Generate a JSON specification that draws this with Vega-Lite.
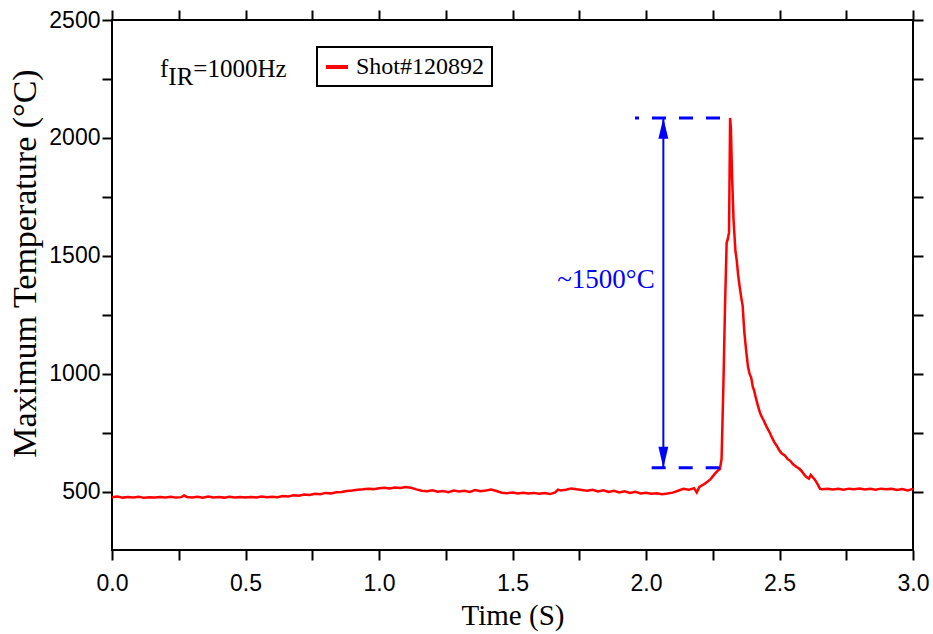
{
  "$schema": "https://vega.github.io/schema/vega-lite/v6.json",
  "width": 801,
  "height": 530,
  "autosize": {"type": "none"},
  "padding": {"left": 112, "top": 20, "right": 20, "bottom": 84},
  "background": "white",
  "config": {
    "view": {"stroke": "black", "strokeWidth": 2},
    "axis": {"domain": false, "grid": false, "tickColor": "black", "tickWidth": 2, "tickSize": 10, "labelColor": "black", "titleColor": "black", "labelOverlap": false, "labelFlush": false, "labelBound": false}
  },
  "datasets": {
    "series": [
      {"t":0,"v":478},{"t":0.02,"v":481},{"t":0.04,"v":476},{"t":0.06,"v":479},{"t":0.08,"v":477},{"t":0.1,"v":480},{"t":0.12,"v":475},{"t":0.14,"v":478},{"t":0.16,"v":476},{"t":0.18,"v":479},{"t":0.2,"v":477},{"t":0.22,"v":480},{"t":0.24,"v":476},{"t":0.26,"v":478},{"t":0.27,"v":485},{"t":0.28,"v":479},{"t":0.3,"v":477},{"t":0.32,"v":480},{"t":0.34,"v":476},{"t":0.36,"v":481},{"t":0.38,"v":477},{"t":0.4,"v":479},{"t":0.42,"v":476},{"t":0.44,"v":480},{"t":0.46,"v":477},{"t":0.48,"v":479},{"t":0.5,"v":476},{"t":0.52,"v":479},{"t":0.54,"v":477},{"t":0.56,"v":481},{"t":0.58,"v":478},{"t":0.6,"v":480},{"t":0.62,"v":478},{"t":0.64,"v":483},{"t":0.66,"v":481},{"t":0.68,"v":486},{"t":0.7,"v":484},{"t":0.72,"v":489},{"t":0.74,"v":487},{"t":0.76,"v":492},{"t":0.78,"v":490},{"t":0.8,"v":496},{"t":0.82,"v":494},{"t":0.84,"v":499},{"t":0.86,"v":500},{"t":0.88,"v":504},{"t":0.9,"v":506},{"t":0.92,"v":509},{"t":0.94,"v":511},{"t":0.96,"v":514},{"t":0.98,"v":512},{"t":1.0,"v":516},{"t":1.02,"v":518},{"t":1.04,"v":515},{"t":1.06,"v":519},{"t":1.08,"v":517},{"t":1.1,"v":521},{"t":1.12,"v":518},{"t":1.14,"v":511},{"t":1.16,"v":505},{"t":1.18,"v":503},{"t":1.2,"v":507},{"t":1.22,"v":501},{"t":1.24,"v":504},{"t":1.26,"v":499},{"t":1.28,"v":506},{"t":1.3,"v":502},{"t":1.32,"v":505},{"t":1.34,"v":500},{"t":1.36,"v":508},{"t":1.38,"v":503},{"t":1.4,"v":506},{"t":1.42,"v":510},{"t":1.44,"v":504},{"t":1.46,"v":497},{"t":1.48,"v":495},{"t":1.5,"v":498},{"t":1.52,"v":494},{"t":1.54,"v":497},{"t":1.56,"v":493},{"t":1.58,"v":496},{"t":1.6,"v":492},{"t":1.62,"v":495},{"t":1.64,"v":491},{"t":1.66,"v":498},{"t":1.67,"v":510},{"t":1.68,"v":506},{"t":1.7,"v":509},{"t":1.72,"v":515},{"t":1.74,"v":511},{"t":1.76,"v":508},{"t":1.78,"v":505},{"t":1.8,"v":509},{"t":1.82,"v":502},{"t":1.84,"v":507},{"t":1.86,"v":500},{"t":1.88,"v":505},{"t":1.9,"v":498},{"t":1.92,"v":503},{"t":1.94,"v":496},{"t":1.96,"v":501},{"t":1.98,"v":494},{"t":2.0,"v":497},{"t":2.02,"v":492},{"t":2.04,"v":494},{"t":2.06,"v":490},{"t":2.08,"v":493},{"t":2.1,"v":497},{"t":2.12,"v":505},{"t":2.14,"v":513},{"t":2.16,"v":509},{"t":2.18,"v":516},{"t":2.19,"v":498},{"t":2.2,"v":521},{"t":2.22,"v":535},{"t":2.24,"v":552},{"t":2.25,"v":566},{"t":2.26,"v":580},{"t":2.27,"v":591},{"t":2.277,"v":598},{"t":2.283,"v":640},{"t":2.29,"v":960},{"t":2.296,"v":1290},{"t":2.302,"v":1555},{"t":2.306,"v":1570},{"t":2.311,"v":1600},{"t":2.315,"v":2085},{"t":2.318,"v":2040},{"t":2.322,"v":1850},{"t":2.328,"v":1650},{"t":2.335,"v":1520},{"t":2.34,"v":1480},{"t":2.345,"v":1420},{"t":2.352,"v":1360},{"t":2.358,"v":1314},{"t":2.362,"v":1290},{"t":2.368,"v":1180},{"t":2.375,"v":1100},{"t":2.382,"v":1030},{"t":2.388,"v":1000},{"t":2.394,"v":985},{"t":2.4,"v":945},{"t":2.405,"v":930},{"t":2.41,"v":905},{"t":2.418,"v":870},{"t":2.427,"v":835},{"t":2.435,"v":815},{"t":2.44,"v":805},{"t":2.45,"v":780},{"t":2.457,"v":765},{"t":2.464,"v":750},{"t":2.472,"v":730},{"t":2.48,"v":712},{"t":2.49,"v":695},{"t":2.5,"v":675},{"t":2.51,"v":662},{"t":2.52,"v":655},{"t":2.53,"v":640},{"t":2.54,"v":632},{"t":2.55,"v":618},{"t":2.564,"v":606},{"t":2.575,"v":598},{"t":2.585,"v":585},{"t":2.595,"v":570},{"t":2.6,"v":564},{"t":2.61,"v":556},{"t":2.617,"v":572},{"t":2.625,"v":562},{"t":2.635,"v":548},{"t":2.645,"v":528},{"t":2.652,"v":513},{"t":2.66,"v":511},{"t":2.68,"v":514},{"t":2.7,"v":510},{"t":2.72,"v":513},{"t":2.74,"v":509},{"t":2.76,"v":514},{"t":2.78,"v":511},{"t":2.8,"v":515},{"t":2.82,"v":510},{"t":2.84,"v":513},{"t":2.86,"v":509},{"t":2.88,"v":514},{"t":2.9,"v":511},{"t":2.92,"v":513},{"t":2.94,"v":508},{"t":2.96,"v":512},{"t":2.98,"v":506},{"t":3.0,"v":513}
    ],
    "dashUpper": [{"t1": 1.9588, "t2": 2.28, "v": 2085}],
    "dashLower": [{"t1": 2.0213, "t2": 2.277, "v": 603}],
    "arrow": [{"t": 2.065, "v1": 603, "v2": 2085}],
    "heads": [
      {"t": 2.065, "v": 2085, "dir": "up"},
      {"t": 2.065, "v": 603, "dir": "down"}
    ],
    "labels": [
      {"t": 1.85, "v": 1398, "text": "~1500°C"}
    ],
    "freq": [
      {"t": 0.18, "v": 2258, "text": "f"},
      {"t": 0.2109, "v": 2225, "text": "IR"},
      {"t": 0.3045, "v": 2258, "text": "=1000Hz"}
    ]
  },
  "resolve": {"axis": {"x": "independent", "y": "independent"}},
  "layer": [
    {
      "data": {"name": "series"},
      "mark": {"type": "line", "strokeWidth": 2.5, "interpolate": "linear"},
      "encoding": {
        "x": {
          "field": "t", "type": "quantitative",
          "scale": {"domain": [0, 3], "nice": false, "zero": false},
          "axis": {
            "orient": "bottom",
            "values": [0, 0.25, 0.5, 0.75, 1, 1.25, 1.5, 1.75, 2, 2.25, 2.5, 2.75, 3],
            "labelExpr": "datum.value % 0.5 === 0 ? format(datum.value, '.1f') : ''",
            "labelFont": "Liberation Sans", "labelFontSize": 23, "labelPadding": 12,
            "title": "Time (S)", "titleFont": "Liberation Serif", "titleFontSize": 29, "titleFontWeight": "normal", "titlePadding": 6,
            "encode": {"ticks": {"update": {"y2": {"signal": "datum.value % 0.5 === 0 ? -11 : -6"}}}}
          }
        },
        "y": {
          "field": "v", "type": "quantitative",
          "scale": {"domain": [254, 2500], "nice": false, "zero": false},
          "axis": {
            "orient": "left",
            "values": [500, 750, 1000, 1250, 1500, 1750, 2000, 2250, 2500],
            "format": "d",
            "labelExpr": "datum.value % 500 === 0 ? datum.label : ''",
            "labelFont": "Liberation Sans", "labelFontSize": 23, "labelPadding": 2,
            "title": "Maximum Temperature (°C)", "titleFont": "Liberation Serif", "titleFontSize": 34, "titleFontWeight": "normal", "titlePadding": 6, "titleY": 243,
            "encode": {"ticks": {"update": {"x2": {"signal": "datum.value % 500 === 0 ? 11 : 6"}}}}
          }
        },
        "color": {
          "datum": "Shot#120892", "type": "nominal",
          "scale": {"range": ["#ff0000"]},
          "legend": {
            "orient": "none", "legendX": 205, "legendY": 27,
            "title": null, "symbolType": "stroke", "symbolSize": 484, "symbolStrokeWidth": 4,
            "labelFont": "Liberation Serif", "labelFontSize": 24, "labelColor": "black", "labelOffset": 6,
            "strokeColor": "black", "padding": 7, "fillColor": "white",
            "encode": {"legend": {"update": {"strokeWidth": {"value": 2}}}}
          }
        }
      }
    },
    {
      "data": {"name": "dashUpper"},
      "mark": {"type": "rule", "color": "#0000ff", "strokeWidth": 3, "strokeDash": [14, 13], "strokeDashOffset": 10},
      "encoding": {
        "x": {
          "field": "t1", "type": "quantitative",
          "axis": {
            "orient": "top", "labels": false, "title": null,
            "values": [0, 0.25, 0.5, 0.75, 1, 1.25, 1.5, 1.75, 2, 2.25, 2.5, 2.75, 3],
            "encode": {"ticks": {"update": {"y2": {"signal": "datum.value % 0.5 === 0 ? 11 : 6"}}}}
          }
        },
        "x2": {"field": "t2"},
        "y": {
          "field": "v", "type": "quantitative",
          "axis": {
            "orient": "right", "labels": false, "title": null,
            "values": [500, 750, 1000, 1250, 1500, 1750, 2000, 2250, 2500],
            "encode": {"ticks": {"update": {"x2": {"signal": "datum.value % 500 === 0 ? -11 : -6"}}}}
          }
        }
      }
    },
    {
      "data": {"name": "dashLower"},
      "mark": {"type": "rule", "color": "#0000ff", "strokeWidth": 3, "strokeDash": [14, 13]},
      "encoding": {
        "x": {"field": "t1", "type": "quantitative", "axis": null},
        "x2": {"field": "t2"},
        "y": {"field": "v", "type": "quantitative", "axis": null}
      }
    },
    {
      "data": {"name": "arrow"},
      "mark": {"type": "rule", "color": "#0000ff", "strokeWidth": 2},
      "encoding": {
        "x": {"field": "t", "type": "quantitative", "axis": null},
        "y": {"field": "v1", "type": "quantitative", "axis": null},
        "y2": {"field": "v2"}
      }
    },
    {
      "data": {"name": "heads"},
      "mark": {"type": "point", "filled": true, "color": "#0000ff", "opacity": 1, "size": 484, "strokeWidth": 0},
      "encoding": {
        "x": {"field": "t", "type": "quantitative", "axis": null},
        "y": {"field": "v", "type": "quantitative", "axis": null},
        "shape": {
          "field": "dir", "type": "nominal", "legend": null,
          "scale": {"domain": ["up", "down"], "range": ["M0,0L0.45,1.9L-0.45,1.9Z", "M0,0L0.45,-1.9L-0.45,-1.9Z"]}
        }
      }
    },
    {
      "data": {"name": "labels"},
      "mark": {"type": "text", "font": "Liberation Serif", "fontSize": 27, "color": "#0000ff", "align": "center", "baseline": "middle"},
      "encoding": {
        "x": {"field": "t", "type": "quantitative", "axis": null},
        "y": {"field": "v", "type": "quantitative", "axis": null},
        "text": {"field": "text"}
      }
    },
    {
      "data": {"name": "freq"},
      "mark": {"type": "text", "font": "Liberation Serif", "fontSize": 25, "color": "black", "align": "left", "baseline": "alphabetic"},
      "encoding": {
        "x": {"field": "t", "type": "quantitative", "axis": null},
        "y": {"field": "v", "type": "quantitative", "axis": null},
        "text": {"field": "text"}
      }
    }
  ]
}
